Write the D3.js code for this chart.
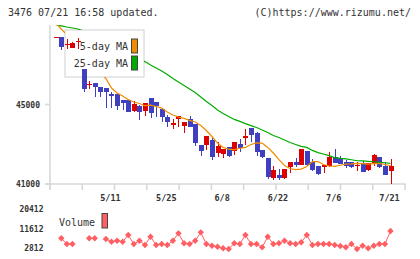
<!DOCTYPE html>
<html lang="ja">
<head>
<meta charset="UTF-8"/>
<title>3476 chart</title>
<script src="https://d3js.org/d3.v7.min.js"></script>
<style>
    body { margin: 0; background: #fff; }
    text { font-family: "DejaVu Sans Mono", monospace; }
</style>
</head>
<body>
<div id="chart"></div>
<script>
    let width = 420;
    let height = 259;

    // trading days shown (2023)
    var dates = ["4/24","4/25","4/26","4/27","4/28","5/1","5/2","5/8","5/9","5/10",
        "5/11","5/12","5/15","5/16","5/17","5/18","5/19","5/22","5/23","5/24",
        "5/25","5/26","5/29","5/30","5/31","6/1","6/2","6/5","6/6","6/7",
        "6/8","6/9","6/12","6/13","6/14","6/15","6/16","6/19","6/20","6/21",
        "6/22","6/23","6/26","6/27","6/28","6/29","6/30","7/3","7/4","7/5",
        "7/6","7/7","7/10","7/11","7/12","7/13","7/14","7/18","7/19","7/20",
        "7/21"];
    var dateLabels = ["5/11", "5/25", "6/8", "6/22", "7/6", "7/21"];

    var open  = [48390,48410,48000,47850,48150,46790,46010,46070,45900,45810,
        45530,45530,45230,45230,44690,44920,44690,45310,45140,44760,
        44350,43980,44250,43920,44250,44000,42960,42980,43210,42560,
        42510,42850,42640,43010,43310,43820,43550,42710,42310,41300,
        41450,41300,41870,42120,41970,42640,42120,41890,41870,41920,
        42370,42290,42120,42090,41920,42040,41720,42060,42340,41920,
        41670];
    var high  = [48420,48420,48290,48150,48340,46800,46200,46070,45900,45810,
        45610,45530,45230,45250,45160,45000,45060,45330,45140,44760,
        44470,44280,44420,44130,44430,44000,42960,43400,43300,43100,
        42760,42850,43100,43260,43770,43820,43600,42710,42310,41920,
        41750,41750,42120,42290,42760,42640,42240,41890,41970,42620,
        42760,42420,42220,42090,42090,42150,42040,42510,42340,42120,
        42260];
    var low   = [48380,47740,47800,47820,47790,45610,45780,45390,45390,44840,
        44840,44720,44720,44600,44610,44230,44400,44320,44350,44130,
        43850,43770,43880,43580,43880,42930,42390,42710,42210,42370,
        42310,42340,42460,42590,42980,43100,42390,42290,41250,41200,
        41200,41250,41540,41870,41950,41900,41650,41460,41550,41870,
        42060,42010,41830,41790,41670,41620,41650,41920,41790,41470,
        40980];
    var close = [48410,47880,48040,48080,48180,45780,46050,45860,45610,45640,
        45410,44930,45060,44640,45020,44640,45060,44590,44920,44350,
        44130,44080,44420,44130,43880,43060,42670,43400,42370,42900,
        42760,42420,43100,42810,43400,43460,42630,42370,41370,41700,
        41290,41750,42120,41970,42760,41970,41720,41500,41970,42370,
        42060,42010,41890,41870,41950,41620,42040,42460,41840,41470,
        41920];

    var ma5  = [49100,48800,48500,48140,47840,47490,47140,46840,46585,46310,
        45830,45580,45430,45250,45125,45050,44940,44970,44900,44820,
        44620,44470,44370,44300,44200,44120,43940,43690,43390,43060,
        42840,42750,42720,42800,42840,42990,43070,43060,42840,42560,
        42230,41930,41780,41720,41750,41880,42130,42130,41980,41905,
        41890,41945,42000,42015,42040,42025,42005,42025,42040,41980,
        41920];
    var ma25 = [49020,48960,48900,48850,48800,48700,48550,48400,48220,48070,
        47920,47740,47590,47440,47310,47240,47160,46990,46840,46690,
        46510,46310,46130,45960,45780,45600,45380,45150,44950,44720,
        44550,44400,44250,44150,44040,43940,43840,43720,43590,43440,
        43340,43210,43090,42990,42890,42840,42690,42580,42510,42430,
        42330,42290,42260,42220,42170,42160,42140,42120,42090,42070,
        42040];

    var volume = [null,7280,4730,4730,null,null,7280,7280,null,6970,
        5760,6210,5760,8750,4730,6210,4290,7990,4290,4730,
        4290,6210,9510,5050,4730,6210,9960,4730,3970,3530,
        2810,2500,5050,4730,8750,4730,4730,3260,7990,4730,
        5050,6210,5050,4730,5490,8750,4290,4730,4730,4730,
        4290,3840,3260,4730,2500,3970,2810,3970,4730,4730,
        10540];

    var priceTicks = [41000, 45000];
    var volumeTicks = [2812, 11612, 20412];

    var upColor = "#dd0000", downColor = "#3f3fbf";
    var ma5Color = "#f08c00", ma25Color = "#00aa00", volColor = "#ff5e62";
    var axisColor = "#d8d8d8", textColor = "#333";

    var xScale = d3.scaleBand().domain(dates).range([52.9, 393.3]);
    var xc = function (i) { return xScale(dates[i]) + xScale.bandwidth() / 2; };
    var yScale = d3.scaleLinear().domain([41000, 49000]).range([184, 25]);
    var vScale = d3.scaleLinear().domain([2812, 20412]).range([248.3, 209]);
    var tickScale = d3.scaleLinear().domain([0, 11]).range([50, 405]);

    var svg = d3.select("#chart").append("svg").attr("width", width).attr("height", height);

    // header
    svg.append("text").attr("x", 8).attr("y", 16).attr("font-size", 10).attr("fill", textColor)
        .text("3476 07/21 16:58 updated.");
    svg.append("text").attr("x", 411).attr("y", 16).attr("font-size", 10).attr("fill", textColor)
        .attr("text-anchor", "end").text("(C)https://www.rizumu.net/");

    // axes
    var axisG = svg.append("g").attr("stroke", axisColor).attr("stroke-width", 1.6);
    axisG.append("line").attr("x1", 50).attr("x2", 50).attr("y1", 25).attr("y2", 190);
    axisG.append("line").attr("x1", 45).attr("x2", 406).attr("y1", 184).attr("y2", 184);
    axisG.selectAll(".xt").data(d3.range(12)).enter().append("line")
        .attr("x1", function (d) { return tickScale(d); }).attr("x2", function (d) { return tickScale(d); })
        .attr("y1", 184).attr("y2", 190);
    axisG.selectAll(".yt").data(priceTicks).enter().append("line")
        .attr("x1", 45).attr("x2", 50)
        .attr("y1", function (d) { return yScale(d); }).attr("y2", function (d) { return yScale(d); });

    svg.selectAll(".ylab").data(priceTicks).enter().append("text")
        .attr("x", 40).attr("y", function (d) { return yScale(d) + 3; })
        .attr("text-anchor", "end").attr("font-size", 8).attr("font-weight", "bold").attr("fill", textColor)
        .text(function (d) { return d; });

    svg.selectAll(".xlab").data(dateLabels).enter().append("text")
        .attr("x", function (d) { return xScale(d) + xScale.bandwidth() / 2 - 1; }).attr("y", 201)
        .attr("text-anchor", "middle").attr("font-size", 8.5).attr("font-weight", "bold").attr("fill", textColor)
        .text(function (d) { return d; });

    // legend box (candles drawn over it, lines hidden behind it)
    var lg = { x: 65, y: 30, w: 79, h: 47 };
    svg.append("rect").attr("x", lg.x).attr("y", lg.y).attr("width", lg.w).attr("height", lg.h)
        .attr("fill", "#fff").attr("stroke", "#d0d0d0").attr("stroke-width", 1);
    var legendItems = [["5-day MA", ma5Color, 46], ["25-day MA", ma25Color, 63]];
    legendItems.forEach(function (it) {
        svg.append("text").attr("x", 128).attr("y", it[2] + 3.5).attr("text-anchor", "end")
            .attr("font-size", 10).attr("fill", textColor).text(it[0]);
        svg.append("rect").attr("x", 131.5).attr("y", it[2] - 7).attr("width", 6).attr("height", 14)
            .attr("fill", it[1]).attr("stroke", "#444").attr("stroke-width", 1);
    });

    // candles
    var idx = d3.range(dates.length);
    var cg = svg.append("g").attr("shape-rendering", "crispEdges");
    cg.selectAll(".wick").data(idx).enter().append("line")
        .attr("x1", function (i) { return Math.round(xc(i)) + 0.5; })
        .attr("x2", function (i) { return Math.round(xc(i)) + 0.5; })
        .attr("y1", function (i) { return yScale(high[i]); })
        .attr("y2", function (i) { return yScale(low[i]); })
        .attr("stroke", function (i) { return close[i] >= open[i] ? upColor : downColor; })
        .attr("stroke-width", 1);
    cg.selectAll(".body").data(idx).enter().append("rect")
        .attr("x", function (i) { return Math.round(xc(i)) - 2; })
        .attr("width", 5)
        .attr("y", function (i) { return yScale(Math.max(open[i], close[i])); })
        .attr("height", function (i) { return Math.max(1, Math.abs(yScale(open[i]) - yScale(close[i]))); })
        .attr("fill", function (i) { return close[i] >= open[i] ? upColor : downColor; });

    // moving averages, clipped to plot minus legend box
    var clipD = "M50,25H406V184H50Z M" + lg.x + "," + lg.y + "V" + (lg.y + lg.h) + "H" + (lg.x + lg.w) + "V" + lg.y + "Z";
    svg.append("clipPath").attr("id", "plotclip").append("path").attr("d", clipD).attr("clip-rule", "evenodd");
    var maLine = function (arr) {
        return d3.line().x(function (d, i) { return xc(i); }).y(function (d) { return yScale(d); })(arr);
    };
    var lines = svg.append("g").attr("clip-path", "url(#plotclip)").attr("fill", "none").attr("stroke-width", 1.2);
    lines.append("path").attr("d", maLine(ma25)).attr("stroke", ma25Color);
    lines.append("path").attr("d", maLine(ma5)).attr("stroke", ma5Color);

    // volume
    svg.selectAll(".vlab").data(volumeTicks).enter().append("text")
        .attr("x", 43.5).attr("y", function (d) { return vScale(d) + 3; })
        .attr("text-anchor", "end").attr("font-size", 8).attr("font-weight", "bold").attr("fill", textColor)
        .text(function (d) { return d; });
    svg.append("text").attr("x", 59).attr("y", 225.5).attr("font-size", 10).attr("fill", textColor).text("Volume");
    svg.append("rect").attr("x", 102).attr("y", 213.5).attr("width", 5.5).attr("height", 14.5)
        .attr("fill", volColor).attr("stroke", "#444").attr("stroke-width", 1);

    var volLine = d3.line().defined(function (d) { return d !== null; })
        .x(function (d, i) { return xc(i); }).y(function (d) { return vScale(d); });
    svg.append("path").attr("d", volLine(volume)).attr("fill", "none").attr("stroke", volColor).attr("stroke-width", 1);
    svg.selectAll(".vpt").data(idx.filter(function (i) { return volume[i] !== null; })).enter().append("path")
        .attr("d", "M0,-3.2L3.2,0L0,3.2L-3.2,0Z")
        .attr("transform", function (i) { return "translate(" + xc(i) + "," + vScale(volume[i]) + ")"; })
        .attr("fill", volColor);
</script>
</body>
</html>
